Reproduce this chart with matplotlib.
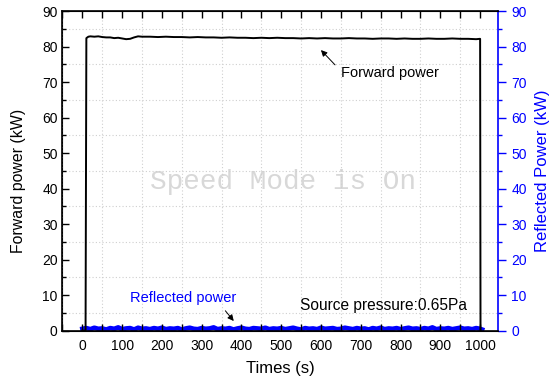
import matplotlib
matplotlib.use("Agg")
import matplotlib.pyplot as plt
from matplotlib.ticker import MultipleLocator

plt.rcParams['font.family'] = ['Liberation Sans', 'DejaVu Sans']

# ---- data ----
fwd_time = [0, 8, 10, 15, 20, 30, 40, 50, 60, 70, 80, 90, 100, 110, 120, 130, 140, 150,
            170, 190, 210, 230, 250, 270, 290, 310, 330, 350, 370, 390, 410, 430, 450,
            470, 490, 510, 530, 550, 570, 590, 610, 630, 650, 670, 690, 710, 730, 750,
            770, 790, 810, 830, 850, 870, 890, 910, 930, 950, 970, 990, 1000, 1001]
fwd_power = [0, 0, 82.4, 82.8, 82.9, 82.8, 82.9, 82.7, 82.6, 82.6, 82.4, 82.5, 82.3, 82.1, 82.2, 82.6, 82.9, 82.8,
             82.8, 82.7, 82.8, 82.7, 82.7, 82.6, 82.7, 82.6, 82.6, 82.5, 82.6, 82.5, 82.5, 82.4, 82.5,
             82.4, 82.5, 82.4, 82.4, 82.3, 82.4, 82.3, 82.4, 82.3, 82.3, 82.4, 82.3, 82.3, 82.2, 82.3,
             82.3, 82.2, 82.3, 82.2, 82.2, 82.3, 82.2, 82.2, 82.3, 82.2, 82.2, 82.1, 82.2, 0]

ref_time = [0, 10, 20, 30, 40, 50, 60, 70, 80, 90, 100, 110, 120, 130, 140, 150, 160, 170, 180, 190,
            200, 210, 220, 230, 240, 250, 260, 270, 280, 290, 300, 310, 320, 330, 340, 350, 360, 370,
            380, 390, 400, 410, 420, 430, 440, 450, 460, 470, 480, 490, 500, 510, 520, 530, 540, 550,
            560, 570, 580, 590, 600, 610, 620, 630, 640, 650, 660, 670, 680, 690, 700, 710, 720, 730,
            740, 750, 760, 770, 780, 790, 800, 810, 820, 830, 840, 850, 860, 870, 880, 890, 900, 910,
            920, 930, 940, 950, 960, 970, 980, 990, 1000, 1005]
ref_power = [0.5, 0.7, 0.4, 0.8, 0.5, 0.6, 0.3, 0.7, 0.5, 0.9, 0.4, 0.6, 0.7, 0.3, 0.8, 0.5, 0.6, 0.4, 0.7, 0.5,
             0.8, 0.4, 0.6, 0.5, 0.7, 0.3, 0.6, 0.8, 0.5, 0.4, 0.7, 0.5, 0.6, 0.9, 0.4, 0.6, 0.5, 0.7,
             0.3, 0.6, 0.8, 0.5, 0.4, 0.7, 0.6, 0.5, 0.8, 0.4, 0.6, 0.5, 0.7, 0.4, 0.6, 0.8, 0.5, 0.3,
             0.7, 0.5, 0.6, 0.4, 0.8, 0.5, 0.6, 0.7, 0.4, 0.5, 0.8, 0.6, 0.4, 0.7, 0.5, 0.6, 0.3, 0.7,
             0.5, 0.8, 0.4, 0.6, 0.5, 0.7, 0.4, 0.6, 0.8, 0.5, 0.6, 0.4, 0.7, 0.5, 0.9, 0.4, 0.6, 0.5,
             0.7, 0.4, 0.6, 0.8, 0.5, 0.6, 0.4, 0.7, 0.5, 0.3]

x_ticks = [0, 100, 200, 300, 400, 500, 600, 700, 800, 900, 1000]
y_ticks = [0, 10, 20, 30, 40, 50, 60, 70, 80, 90]

BLUE = '#0000ff'

fig = plt.figure(figsize=(5.58, 3.84), dpi=100)
ax = fig.add_axes([0.112, 0.139, 0.7805, 0.832])
ax2 = ax.twinx()

ax.plot(fwd_time, fwd_power, color='black', lw=1.4, zorder=3)
ax2.plot(ref_time, ref_power, color=BLUE, lw=3.4, zorder=3)

ax.set_xlim(-50, 1045)
ax.set_ylim(0, 90)
ax2.set_ylim(0, 90)

ax.set_xticks(x_ticks)
ax.set_yticks(y_ticks)
ax2.set_yticks(y_ticks)
ax.xaxis.set_minor_locator(MultipleLocator(50))
ax.yaxis.set_minor_locator(MultipleLocator(5))
ax2.yaxis.set_minor_locator(MultipleLocator(5))

ax.grid(True, which='minor', ls=(0, (1, 2)), color='#cfcfcf', lw=0.8)
ax.grid(False, which='major')

ax.tick_params(axis='x', which='both', direction='in', top=True, bottom=True,
               labelsize=10, length=5, width=1, pad=6)
ax.tick_params(axis='y', which='major', direction='in', length=5, width=1, labelsize=10, right=False)
ax.tick_params(axis='y', which='minor', direction='in', length=3, width=1, right=False)
ax2.tick_params(axis='y', which='major', direction='out', length=6, width=1,
                colors=BLUE, labelsize=10)
ax2.tick_params(axis='y', which='minor', direction='out', length=3, width=1, colors=BLUE)
ax.tick_params(axis='x', which='minor', length=5)

ax2.spines['right'].set_color(BLUE)
ax2.spines['right'].set_linewidth(1.2)
for s in ['left', 'top', 'bottom']:
    ax.spines[s].set_linewidth(1.2)
ax.spines['right'].set_visible(False)

ax.set_xlabel('Times (s)', fontsize=12, labelpad=6)
ax.set_ylabel('Forward power (kW)', fontsize=11.4)
ax.yaxis.set_label_coords(-0.083, 0.468)
ax2.set_ylabel('Reflected Power (kW)', fontsize=12, color=BLUE, labelpad=6)

ax.text(505, 41.8, 'Speed Mode is On', family=['Liberation Mono', 'DejaVu Sans Mono'],
        fontsize=20, color='#d8d8d8', ha='center', va='center', zorder=1)

ax.annotate('', xy=(595, 79.6), xytext=(640, 74.3),
            arrowprops=dict(arrowstyle='-|>', color='black', lw=0.7, mutation_scale=9))
ax.text(650, 72.6, 'Forward power', fontsize=10.5, ha='left', va='center')

ax.annotate('', xy=(385, 2.1), xytext=(355, 6.2),
            arrowprops=dict(arrowstyle='-|>', color='black', lw=0.7, mutation_scale=9), zorder=5)
ax.text(120, 9.2, 'Reflected power', fontsize=10.5, color=BLUE, ha='left', va='center')
ax.text(547, 7.2, 'Source pressure:0.65Pa', fontsize=11.2, ha='left', va='center')

ax.set_zorder(ax2.get_zorder() + 1)
ax.patch.set_visible(False)

fig.savefig('out.png', dpi=100)
